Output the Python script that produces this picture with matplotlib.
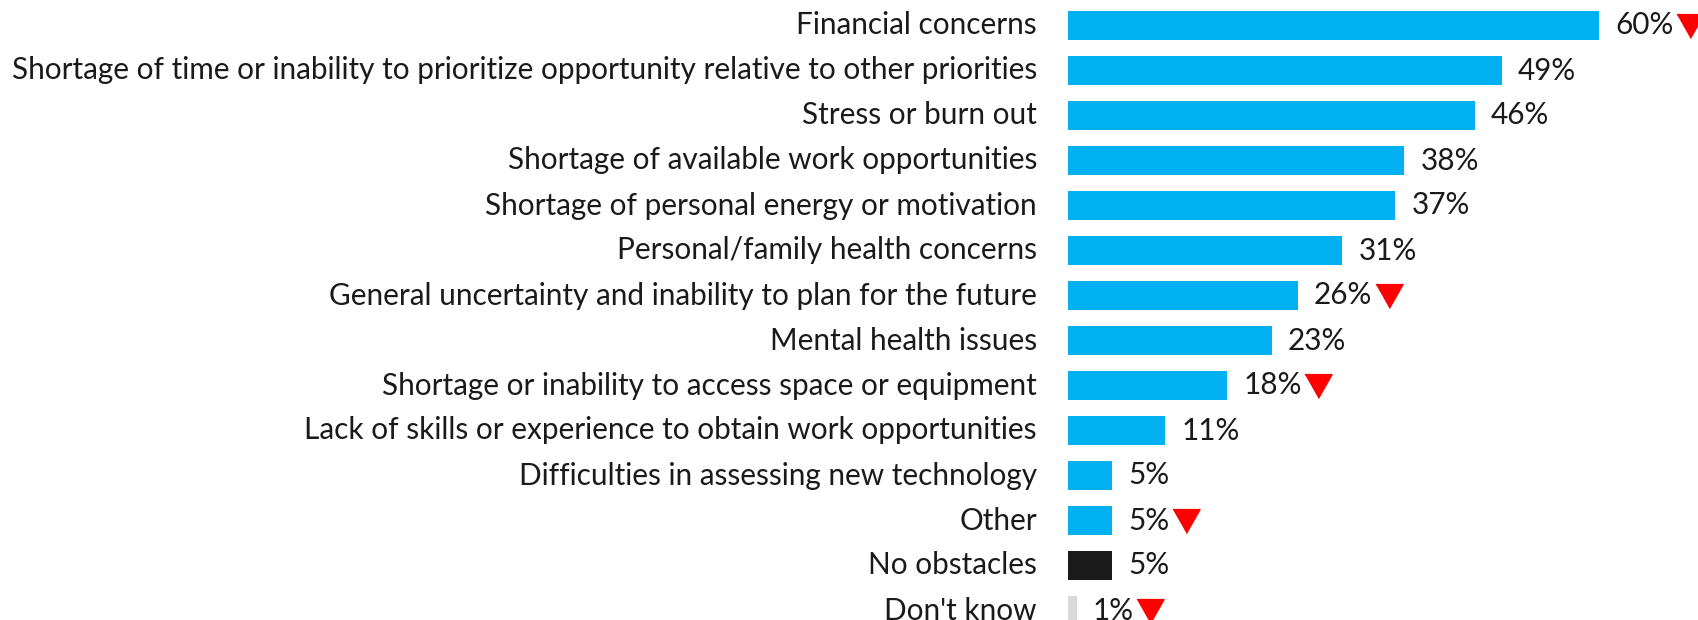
import matplotlib
matplotlib.use("Agg")
import matplotlib.pyplot as plt
import numpy as np

# ── data ──────────────────────────────────────────────────────────────
CATEGORIES = [
    "Financial concerns",
    "Shortage of time or inability to prioritize opportunity relative to other priorities",
    "Stress or burn out",
    "Shortage of available work opportunities",
    "Shortage of personal energy or motivation",
    "Personal/family health concerns",
    "General uncertainty and inability to plan for the future",
    "Mental health issues",
    "Shortage or inability to access space or equipment",
    "Lack of skills or experience to obtain work opportunities",
    "Difficulties in assessing new technology",
    "Other",
    "No obstacles",
    "Don't know",
]
VALUES = [60, 49, 46, 38, 37, 31, 26, 23, 18, 11, 5, 5, 5, 1]
DOWN_FLAG = [True, False, False, False, False, False, True, False, True,
             False, False, True, False, True]
# ─────────────────────────────────────────────────────────────────────

BLUE, BLACK, GREY = "#00B0F0", "#1A1A1A", "#D9D9D9"
FONT = "Lato"
FS = 21.4

W, H = 1698, 620
fig = plt.figure(figsize=(W / 100, H / 100), dpi=100)
x0 = 1068
ax = fig.add_axes([x0 / W, 0, 1 - x0 / W, 1])

px_per = 8.85
row, c0 = 45.0, 25.5
n = len(CATEGORIES)
y = np.arange(n)
colors = [BLUE] * (n - 2) + [BLACK, GREY]

ax.barh(y, VALUES, height=28.5 / row, color=colors, edgecolor="none")
ax.set_xlim(0, (W - x0) / px_per)
ax.set_ylim((H - c0) / row, -c0 / row)
ax.axis("off")

tri = [(-1, 0.88), (1, 0.88), (0, -0.88)]
labels = []
for yi, v, cat in zip(y, VALUES, CATEGORIES):
    ax.annotate(cat, xy=(0, yi), xytext=(-31, 0), textcoords="offset pixels",
                ha="right", va="center", fontsize=FS, family=FONT,
                color="#1A1A1A", annotation_clip=False)
    t = ax.annotate(f"{v}%", xy=(v, yi), xytext=(16, 0), textcoords="offset pixels",
                    ha="left", va="center", fontsize=FS, family=FONT,
                    color="#1A1A1A", annotation_clip=False)
    labels.append(t)

fig.canvas.draw()
r = fig.canvas.get_renderer()
inv = ax.transData.inverted()
for t, yi, flag in zip(labels, y, DOWN_FLAG):
    if not flag:
        continue
    bb = t.get_window_extent(r)
    xd = inv.transform((bb.x1 + 3 + 13.5, 0))[0]
    ax.plot(xd, yi, marker=tri, markersize=19.5, color="#FF0000",
            linestyle="none", clip_on=False)

fig.savefig("out.png", dpi=100, facecolor="white")
